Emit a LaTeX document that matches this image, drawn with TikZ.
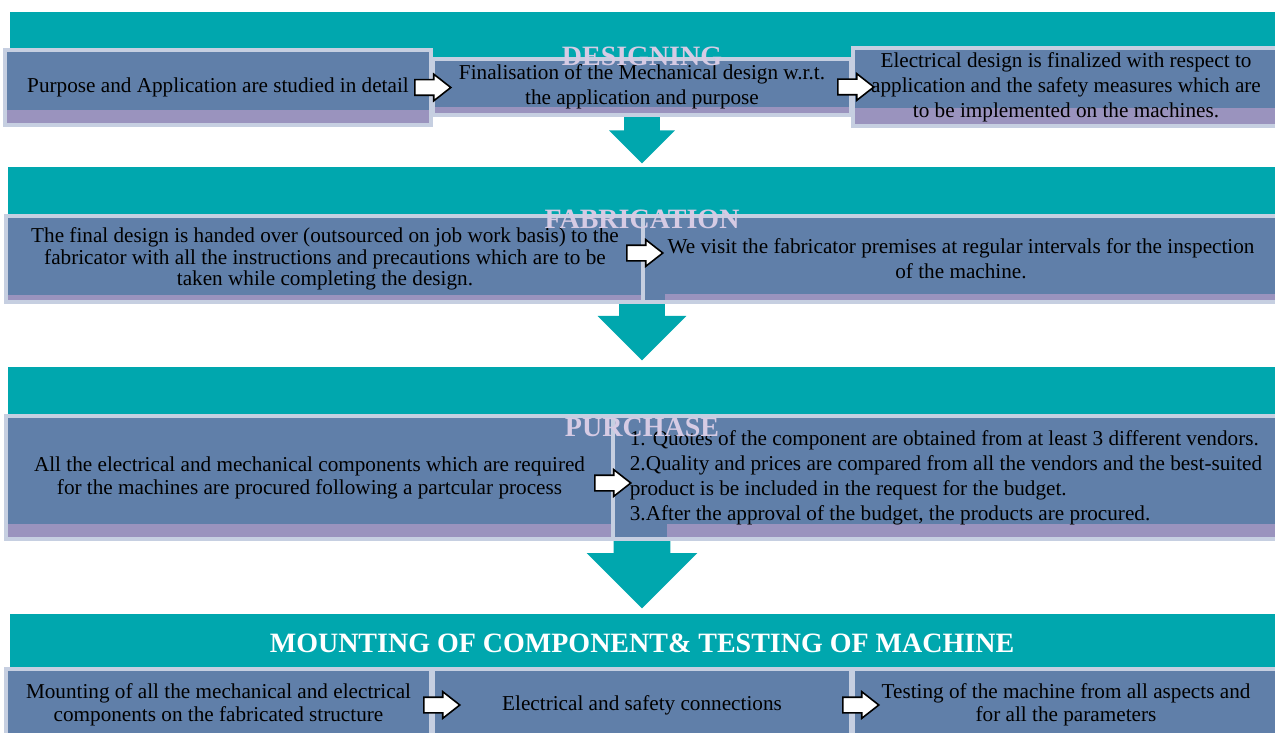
\documentclass[tikz,border=0pt]{standalone}
\usepackage{fontspec}
\setmainfont{Liberation Serif}
\usetikzlibrary{shapes.arrows}
\definecolor{bandteal}{HTML}{00A7AE}
\definecolor{boxblue}{HTML}{607FA9}
\definecolor{boxedge}{HTML}{C6CFE1}
\definecolor{stripepurple}{HTML}{9A93BE}
\definecolor{titlelilac}{HTML}{D6CBE4}
\tikzset{stripe height/.store in=\StripeHeight, stripe height=7pt,
         stripe offset/.store in=\StripeOffset, stripe offset=0pt}
\tikzstyle{stage_band} =
  [ fill=bandteal
  ]
\tikzstyle{stage_title} =
  [ font=\fontsize{14}{16}\selectfont\bfseries
  , text=titlelilac
  , inner sep=0pt
  ]
\tikzstyle{step_box} =
  [ rectangle
  , draw=boxedge
  , fill=boxblue
  , line width=2pt
  , align=center
  , inner sep=0pt
  , font=\fontsize{10.6}{12.5}\selectfont
  , path picture={\fill[stripepurple] ([xshift=\StripeOffset]path picture bounding box.south west) rectangle ([yshift=\StripeHeight]path picture bounding box.south east);}
  ]
\tikzstyle{step_arrow} =
  [ single arrow
  , draw=black
  , fill=white
  , line width=0.8pt
  , minimum height=18pt
  , inner xsep=0pt
  , inner ysep=3.5pt
  , single arrow head extend=2.75pt
  , single arrow tip angle=76
  , anchor=tail
  ]
\tikzstyle{flow_down} =
  [ single arrow
  , fill=bandteal
  , rotate=-90
  , inner xsep=0pt
  , anchor=tail
  ]
\def\PurposeStudy{Purpose and Application are studied in detail}
\def\MechDesign{Finalisation of the Mechanical design w.r.t.\\the application and purpose}
\def\ElecDesign{Electrical design is finalized with respect to\\application and the safety measures which are\\to be implemented on the machines.}
\def\HandOver{The final design is handed over (outsourced on job work basis) to the\\fabricator with all the instructions and precautions which are to be\\taken while completing the design.}
\def\SiteVisit{We visit the fabricator premises at regular intervals for the inspection\\of the machine.}
\def\Procure{All the electrical and mechanical components which are required\\for the machines are procured following a partcular process}
\def\QuoteSteps{1. Quotes of the component are obtained from at least 3 different vendors.\\2.Quality and prices are compared from all the vendors and the best-suited\\product is be included in the request for the budget.\\3.After the approval of the budget, the products are procured.}
\def\MountParts{Mounting of all the mechanical and electrical\\components on the fabricated structure}
\def\MachineTest{Testing of the machine from all aspects and\\for all the parameters}

\begin{document}
\begin{tikzpicture}[x=0.5pt,y=-0.5pt]
    \clip (0,0) rectangle (1275,733);

    % stage bands
    \fill[stage_band] (10,12)  rectangle (1275,60);
    \fill[stage_band] (8,167)  rectangle (1275,222);
    \fill[stage_band] (8,367)  rectangle (1275,422);
    \fill[stage_band] (10,614) rectangle (1275,672);

    % big arrows from one stage to the next
    \node[flow_down, minimum height=26.5pt, inner ysep=8.75pt,  single arrow head extend=7.5pt]   (design_down)   at (642,110) {};
    \node[flow_down, minimum height=31pt,   inner ysep=11.25pt, single arrow head extend=10.75pt] (fabricate_down) at (642,298) {};
    \node[flow_down, minimum height=37.5pt, inner ysep=14pt,    single arrow head extend=13.5pt]  (purchase_down)  at (642,533) {};

    % designing
    \node[step_box, minimum width=213pt, minimum height=37.5pt, stripe height=7.5pt] (purpose_study) at (218,87.5) {\PurposeStudy};
    \node[step_box, minimum width=209pt, minimum height=28pt,   stripe height=4pt]   (mech_design)   at (642,87)   {\MechDesign};
    \node[step_box, minimum width=213pt, minimum height=39pt,   stripe height=9pt]   (elec_design)   at (1066,87.5) {\ElecDesign};
    \node[step_arrow] (design_arrow_a) at ([xshift=-9.5pt]purpose_study.east) {};
    \node[step_arrow] (design_arrow_b) at ([xshift=-8pt]mech_design.east) {};
    \node[stage_title] (designing) at (642,56) {DESIGNING};

    % fabrication
    \node[step_box, minimum width=319pt, minimum height=43pt, stripe height=3.5pt, font=\fontsize{10.6}{10.75}\selectfont] (hand_over) at (325,259) {\HandOver};
    \node[step_box, minimum width=318pt, minimum height=43pt, stripe height=4pt, stripe offset=11pt] (site_visit) at (961,259) {\SiteVisit};
    \node[step_arrow] (fabricate_arrow) at ([xshift=-10pt,yshift=3pt]hand_over.east) {};
    \node[stage_title] (fabrication) at (642,219) {FABRICATION};

    % purchase
    \node[step_box, minimum width=303.5pt, minimum height=61.5pt, stripe height=7.5pt, font=\fontsize{10.6}{11.5}\selectfont] (procure) at (309.5,477.5) {\Procure};
    \node[step_box, minimum width=333pt, minimum height=61.5pt, stripe height=7.5pt, stripe offset=27pt, align=left] (quote_steps) at (946,477.5) {\QuoteSteps};
    \node[step_arrow] (purchase_arrow) at ([xshift=-10.5pt,yshift=-2.75pt]procure.east) {};
    \node[stage_title] (purchase) at (642,427) {PURCHASE};

    % mounting and testing
    \node[step_box, minimum width=212.5pt, minimum height=36pt, stripe height=0pt, font=\fontsize{10.6}{11.5}\selectfont] (mount_parts)  at (218.5,705) {\MountParts};
    \node[step_box, minimum width=209pt,   minimum height=36pt, stripe height=0pt] (connections)  at (642,705)   {Electrical and safety connections};
    \node[step_box, minimum width=213pt,   minimum height=36pt, stripe height=0pt, font=\fontsize{10.6}{11.5}\selectfont] (machine_test) at (1066,705)  {\MachineTest};
    \node[step_arrow] (mount_arrow_a) at ([xshift=-5pt]mount_parts.east) {};
    \node[step_arrow] (mount_arrow_b) at ([xshift=-5.5pt]connections.east) {};
    \node[stage_title, text=white] (mounting) at (642,643) {MOUNTING OF COMPONENT\&\ TESTING OF MACHINE};
\end{tikzpicture}
\end{document}
